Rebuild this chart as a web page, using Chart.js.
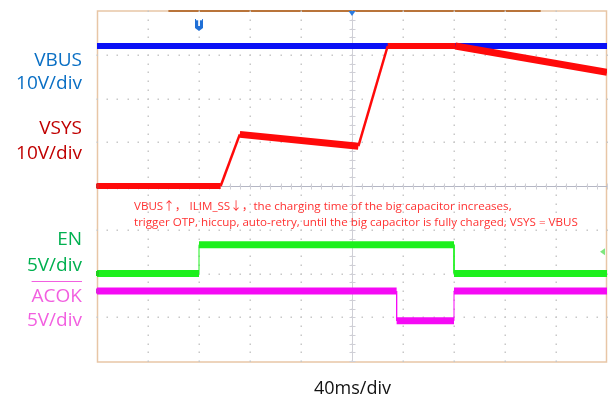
<!DOCTYPE html>
<html>
<head>
<meta charset="utf-8">
<script src="https://cdn.jsdelivr.net/npm/chart.js@4/dist/chart.umd.min.js"></script>
<style>
  html, body { margin: 0; padding: 0; background: #ffffff; }
  #wrap { position: relative; width: 608px; height: 397px; overflow: hidden; }
  #scope { position: absolute; left: 0; top: 0; }
  .lbl { position: absolute; font-family: "Open Sans", sans-serif; white-space: nowrap; line-height: 1; }
  .side { right: 526px; font-size: 19px; text-align: right; }
  .note { left: 134px; font-size: 11.6px; color: #ff3232; }
  .cjk { font-family: "Noto Sans CJK SC", sans-serif; }
  .bar { text-decoration: overline; text-decoration-thickness: 1px; }
</style>
</head>
<body>
<div id="wrap">
  <canvas id="scope" width="608" height="397"></canvas>
  <div class="lbl side" style="top:50px;color:#0a6fc4">VBUS</div>
  <div class="lbl side" style="top:73px;color:#0a6fc4">10V/div</div>
  <div class="lbl side" style="top:118px;color:#c00000">VSYS</div>
  <div class="lbl side" style="top:143px;color:#c00000">10V/div</div>
  <div class="lbl side" style="top:229px;color:#00b050">EN</div>
  <div class="lbl side" style="top:255px;color:#00b050">5V/div</div>
  <div class="lbl side bar" style="top:286px;color:#f25fe0">ACOK</div>
  <div class="lbl side" style="top:310px;color:#f25fe0">5V/div</div>
  <div class="lbl note" style="top:200px">VBUS<span class="cjk">↑，</span> ILIM_SS<span class="cjk">↓，</span>the charging time of the big capacitor increases,</div>
  <div class="lbl note" style="top:216px">trigger OTP, hiccup, auto-retry, until the big capacitor is fully charged, VSYS = VBUS</div>
  <div class="lbl" style="left:0;width:705px;text-align:center;top:378px;font-size:18px;color:#111">40ms/div</div>
</div>
<script>
// Time base: 40 ms/div, 10 divisions
const timeMs = [0, 400];
const msPerDiv = 40;

// VBUS (10 V/div)
const vbusT = [0, 400];
const vbusV = [32, 32];

// VSYS (10 V/div)
const vsysT = [0, 97, 112, 205, 228, 281, 400];
const vsysV = [0, 0, 11.8, 9.1, 32, 32, 26];

// EN (5 V/div)
const enT = [0, 80, 80, 280, 280, 400];
const enV = [0, 0, 3.3, 3.3, 0, 0];

// ACOK, active low (5 V/div)
const acokT = [0, 235, 235, 280, 280, 400];
const acokV = [3.4, 3.4, 0, 0, 3.4, 3.4];

const toPts = (t, v) => t.map((x, i) => ({ x: x, y: v[i] }));

// width of a trace segment: thin on edges/ramps, wider on the noisy flat parts
function traceWidth(flat, ramp) {
  return ctx => {
    const a = ctx.p0.parsed, b = ctx.p1.parsed;
    if (a.x === b.x) return 1;
    const slope = Math.abs((b.y - a.y) / (b.x - a.x));
    return slope > 0.3 ? ramp : flat(slope);
  };
}

// scope graticule: dotted major lines, ticked centre cross, frame and markers
const graticule = {
  id: 'graticule',
  beforeDatasetsDraw(chart) {
    const { ctx, chartArea: ca, scales } = chart;
    const xs = scales.x, ys = scales.yV;
    ctx.save();
    // frame
    ctx.strokeStyle = '#e8c6a6';
    ctx.lineWidth = 1.5;
    ctx.strokeRect(ca.left + 0.5, ca.top, ca.right - ca.left - 1, ca.bottom - ca.top + 1);
    ctx.strokeStyle = '#b9743a';
    ctx.lineWidth = 2;
    ctx.beginPath();
    ctx.moveTo(xs.getPixelForValue(56), ca.top);
    ctx.lineTo(xs.getPixelForValue(348), ca.top);
    ctx.stroke();

    ctx.fillStyle = '#c8c8c8';
    // vertical dotted lines
    for (let t = msPerDiv; t < 400; t += msPerDiv) {
      const px = Math.round(xs.getPixelForValue(t));
      for (let v = -40; v <= 40; v += 2) {
        const py = Math.round(ys.getPixelForValue(v));
        ctx.fillRect(px - 0.5, py - 0.5, 1.5, 1.5);
      }
    }
    // horizontal dotted lines
    for (let v = -30; v <= 30; v += 10) {
      const py = Math.round(ys.getPixelForValue(v));
      for (let t = 0; t <= 400; t += 8) {
        const px = Math.round(xs.getPixelForValue(t));
        ctx.fillRect(px - 0.5, py - 0.5, 1.5, 1.5);
      }
    }
    // centre cross with minor ticks
    const cx = Math.round(xs.getPixelForValue(200)) + 0.5;
    const cy = Math.round(ys.getPixelForValue(0)) + 0.5;
    ctx.strokeStyle = '#b4b6c4';
    ctx.lineWidth = 1;
    ctx.beginPath();
    ctx.moveTo(ca.left, cy); ctx.lineTo(ca.right, cy);
    ctx.stroke();
    ctx.strokeStyle = '#cfcfd6';
    ctx.beginPath();
    for (let v = -40; v <= 40; v += 2) {
      const py = Math.round(ys.getPixelForValue(v)) + 0.5;
      ctx.moveTo(cx - 3, py); ctx.lineTo(cx + 3, py);
    }
    for (let t = 0; t <= 400; t += 8) {
      const px = Math.round(xs.getPixelForValue(t)) + 0.5;
      ctx.moveTo(px, cy - 3); ctx.lineTo(px, cy + 3);
    }
    ctx.moveTo(cx, ca.top); ctx.lineTo(cx, ca.bottom);
    ctx.stroke();
    ctx.restore();
  },
  afterDatasetsDraw(chart) {
    const { ctx, chartArea: ca, scales } = chart;
    const xs = scales.x;
    ctx.save();
    // trigger position marker
    const tx = xs.getPixelForValue(80);
    ctx.fillStyle = '#1f6fd6';
    ctx.beginPath();
    ctx.moveTo(tx - 4, 19);
    ctx.lineTo(tx + 4, 19);
    ctx.lineTo(tx + 4, 28);
    ctx.lineTo(tx, 31);
    ctx.lineTo(tx - 4, 28);
    ctx.closePath();
    ctx.fill();
    ctx.fillStyle = '#ffffff';
    ctx.font = 'bold 9px "DejaVu Sans"';
    ctx.textAlign = 'center';
    ctx.textBaseline = 'middle';
    ctx.fillText('T', tx, 24);
    // horizontal centre marker
    const mx = xs.getPixelForValue(200);
    ctx.fillStyle = '#2a7be0';
    ctx.beginPath();
    ctx.moveTo(mx - 3.5, ca.top);
    ctx.lineTo(mx + 3.5, ca.top);
    ctx.lineTo(mx, ca.top + 5);
    ctx.closePath();
    ctx.fill();
    // trigger level arrow (EN channel)
    const ly = scales.yEN.getPixelForValue(2.5);
    ctx.fillStyle = '#7ee67e';
    ctx.beginPath();
    ctx.moveTo(ca.right - 7, ly);
    ctx.lineTo(ca.right - 2, ly - 3.5);
    ctx.lineTo(ca.right - 2, ly + 3.5);
    ctx.closePath();
    ctx.fill();
    // channel ground markers on the left edge
    const marks = [
      ['#e02020', scales.yV.getPixelForValue(0)],
      ['#20d020', scales.yEN.getPixelForValue(0)],
      ['#e020e0', scales.yAC.getPixelForValue(3.4)]
    ];
    marks.forEach(([c, y]) => {
      ctx.fillStyle = c;
      ctx.fillRect(ca.left - 1, y - 2.5, 3, 5);
    });
    ctx.restore();
  }
};

new Chart(document.getElementById('scope'), {
  type: 'line',
  data: {
    datasets: [
      {
        label: 'VSYS', yAxisID: 'yV', order: 0,
        data: toPts(vsysT, vsysV),
        borderColor: '#ff0a0a',
        segment: { borderWidth: traceWidth(s => (s > 0.01 ? 7 : 6), 2.5) }
      },
      {
        label: 'VBUS', yAxisID: 'yV', order: 1,
        data: toPts(vbusT, vbusV),
        borderColor: '#0a10f5', borderWidth: 6
      },
      {
        label: 'EN', yAxisID: 'yEN', order: 2,
        data: toPts(enT, enV),
        borderColor: '#1cf01c',
        segment: { borderWidth: traceWidth(() => 7, 1) }
      },
      {
        label: 'ACOK', yAxisID: 'yAC', order: 3,
        data: toPts(acokT, acokV),
        borderColor: '#f50af5',
        segment: { borderWidth: traceWidth(() => 7, 1) }
      }
    ]
  },
  options: {
    responsive: false,
    animation: false,
    events: [],
    layout: { padding: { left: 97, top: 11, right: 1, bottom: 36 } },
    elements: {
      point: { radius: 0 },
      line: { tension: 0, borderCapStyle: 'butt', borderJoinStyle: 'miter' }
    },
    plugins: { legend: { display: false }, tooltip: { enabled: false } },
    scales: {
      x: { type: 'linear', min: timeMs[0], max: timeMs[1], display: false },
      yV: { type: 'linear', min: -40, max: 40, display: false },
      yEN: { type: 'linear', min: -10, max: 30, display: false },
      yAC: { type: 'linear', min: -4.6, max: 35.4, display: false }
    }
  },
  plugins: [graticule]
});
</script>
</body>
</html>
